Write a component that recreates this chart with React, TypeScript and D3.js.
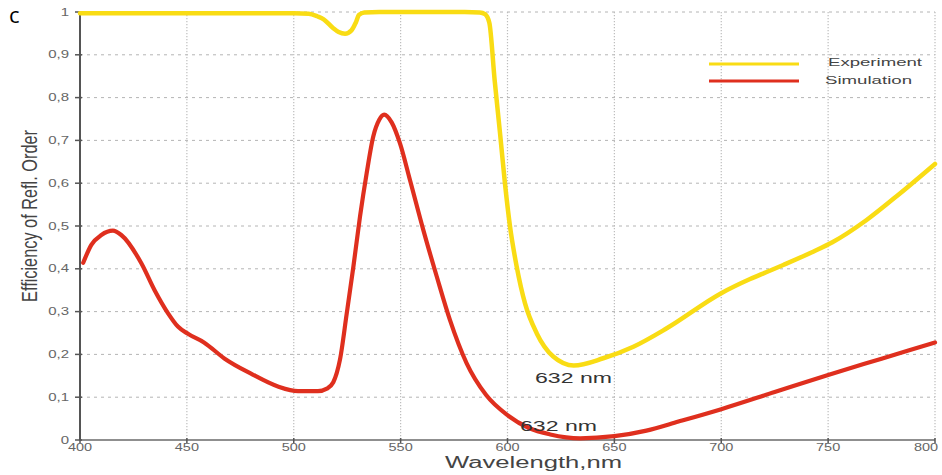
import React from "react";
import * as d3 from "d3";

const xTicks = [400, 450, 500, 550, 600, 650, 700, 750, 800];
const yTicks = [0, 0.1, 0.2, 0.3, 0.4, 0.5, 0.6, 0.7, 0.8, 0.9, 1];
const yTickLabels = ["0", "0,1", "0,2", "0,3", "0,4", "0,5", "0,6", "0,7", "0,8", "0,9", "1"];

const experimentWl = [400, 420, 450, 480, 500, 507, 511, 514, 518.5, 521, 524, 527, 529, 530.5, 533, 540, 560, 580, 587, 589.5, 591.5, 594, 596.5, 598.8, 601.2, 604.3, 608.2, 613.7, 621.4, 631, 644.8, 658.9, 674.5, 700, 713.5, 721, 729, 743, 752, 768, 783.6, 800];
const experimentEff = [0.997, 0.997, 0.997, 0.997, 0.997, 0.996, 0.99, 0.983, 0.962, 0.953, 0.949, 0.957, 0.975, 0.993, 0.999, 1.0, 1.0, 1.0, 0.999, 0.995, 0.975, 0.84, 0.717, 0.6, 0.498, 0.405, 0.319, 0.249, 0.195, 0.174, 0.191, 0.218, 0.261, 0.343, 0.376, 0.392, 0.409, 0.44, 0.462, 0.514, 0.576, 0.645];

const simulationWl = [401.5, 405.3, 410, 415.4, 419.3, 428.7, 434.9, 441.2, 445.8, 450.5, 458, 467.7, 480, 492.6, 502, 511.3, 515.5, 518.5, 521.6, 524.8, 527.9, 531, 534.1, 537.2, 540, 542.3, 545.8, 549.7, 554.4, 560.6, 566.9, 573.1, 580.9, 590, 600, 610, 620, 634, 650, 665, 680, 700, 725, 750, 775, 800];
const simulationEff = [0.414, 0.456, 0.479, 0.489, 0.479, 0.413, 0.35, 0.296, 0.265, 0.248, 0.228, 0.19, 0.155, 0.125, 0.114, 0.114, 0.12, 0.135, 0.187, 0.296, 0.405, 0.522, 0.623, 0.709, 0.748, 0.76, 0.742, 0.693, 0.607, 0.491, 0.382, 0.28, 0.179, 0.105, 0.058, 0.028, 0.013, 0.004, 0.009, 0.022, 0.043, 0.072, 0.112, 0.152, 0.19, 0.228];

const seriesNames = ["Experiment", "Simulation"];
const annotations = ["632 nm", "632 nm"];

const YELLOW = "#f9dc14";
const RED = "#df2f1e";
const FONT = "'Liberation Sans', Arial, sans-serif";

export default function App() {
  const W = 942, H = 475;
  const x = d3.scaleLinear().domain([400, 800]).range([80, 935]);
  const y = d3.scaleLinear().domain([0, 1]).range([440, 12]);

  const line = d3
    .line<[number, number]>()
    .x((d) => x(d[0]))
    .y((d) => y(d[1]))
    .curve(d3.curveMonotoneX);

  const expPath = line(experimentWl.map((w, i) => [w, experimentEff[i]] as [number, number])) || "";
  const simPath = line(simulationWl.map((w, i) => [w, simulationEff[i]] as [number, number])) || "";

  return (
    <svg width={W} height={H} style={{ position: "absolute", left: 0, top: 0, background: "#fff" }} fontFamily={FONT}>
      <rect x={0} y={0} width={W} height={H} fill="#fff" />
      {/* horizontal grid */}
      {yTicks.slice(1).map((t) => (
        <line key={"hg" + t} x1={x(400)} x2={x(800)} y1={y(t)} y2={y(t)} stroke="#b4b4b4" strokeWidth={1} strokeDasharray="3,4" />
      ))}
      {/* vertical grid */}
      {xTicks.slice(1).map((t) => (
        <line key={"vg" + t} x1={x(t)} x2={x(t)} y1={y(1)} y2={y(0)} stroke="#bdbdbd" strokeWidth={1.2} strokeDasharray="1.3,1.7" />
      ))}
      {/* axes */}
      <line x1={x(400)} x2={x(800)} y1={y(0)} y2={y(0)} stroke="#6a6a6a" strokeWidth={1.5} />
      <line x1={x(400)} x2={x(400)} y1={y(1)} y2={y(0)} stroke="#555" strokeWidth={2} />
      {yTicks.map((t) => (
        <line key={"yt" + t} x1={x(400) - 5} x2={x(400) + 2} y1={y(t)} y2={y(t)} stroke="#555" strokeWidth={1.5} />
      ))}
      {xTicks.map((t) => (
        <line key={"xt" + t} x1={x(t)} x2={x(t)} y1={y(0) - 2} y2={y(0) + 3} stroke="#555" strokeWidth={1.5} />
      ))}
      {/* tick labels */}
      {yTicks.map((t, i) => (
        <g key={"yl" + t} transform={`translate(${x(400) - 11},${y(t) + 3.5}) scale(1.5,1)`}>
          <text textAnchor="middle" dx={0} fontSize={10} fill="#666" style={{ textAnchor: "end" }}>{yTickLabels[i]}</text>
        </g>
      ))}
      {xTicks.map((t) => (
        <g key={"xl" + t} transform={`translate(${Math.min(x(t), 926)},${y(0) + 11}) scale(1.45,1)`}>
          <text textAnchor="middle" fontSize={10} fill="#666">{t}</text>
        </g>
      ))}
      {/* curves */}
      <path d={expPath} fill="none" stroke={YELLOW} strokeWidth={4.5} strokeLinejoin="round" strokeLinecap="round" />
      <path d={simPath} fill="none" stroke={RED} strokeWidth={4.2} strokeLinejoin="round" strokeLinecap="round" />
      {/* legend */}
      <line x1={709} x2={799} y1={64} y2={64} stroke={YELLOW} strokeWidth={3.2} />
      <line x1={709} x2={799} y1={81} y2={81} stroke={RED} strokeWidth={3.2} />
      <text x={828} y={66} fontSize={11} fill="#444" textLength={94} lengthAdjust="spacingAndGlyphs">{seriesNames[0]}</text>
      <text x={825} y={84} fontSize={11} fill="#444" textLength={87} lengthAdjust="spacingAndGlyphs">{seriesNames[1]}</text>
      {/* annotations */}
      <text x={535} y={383} fontSize={14} fill="#333" textLength={77} lengthAdjust="spacingAndGlyphs">{annotations[0]}</text>
      <text x={520} y={431} fontSize={14} fill="#333" textLength={77} lengthAdjust="spacingAndGlyphs">{annotations[1]}</text>
      {/* axis titles */}
      <text x={445} y={468} fontSize={16} fill="#444" textLength={177} lengthAdjust="spacingAndGlyphs">Wavelength,nm</text>
      <g transform="translate(37,216) scale(1.35,1) rotate(-90)">
        <text x={-86} y={0} fontSize={16} fill="#444" textLength={172} lengthAdjust="spacingAndGlyphs">Efficiency of Refl. Order</text>
      </g>
      {/* panel label */}
      <text x={9} y={23} fontSize={22} fill="#000" fontFamily="'Open Sans', 'Liberation Sans', Arial, sans-serif">c</text>
    </svg>
  );
}
